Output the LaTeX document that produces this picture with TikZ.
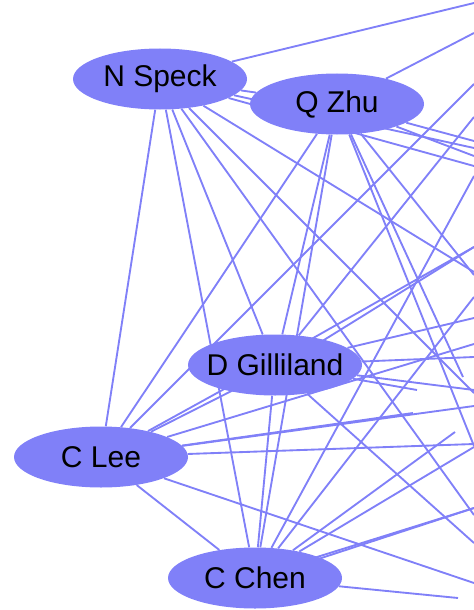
\documentclass[tikz,border=0pt]{standalone}
\usepackage{fontspec}
\setmainfont{Liberation Sans}
\usetikzlibrary{shapes.geometric,backgrounds}

\definecolor{authorblue}{RGB}{128,128,248}

\begin{document}
\begin{tikzpicture}[x=0.75pt,y=0.75pt,yscale=-1,xscale=1,
  author/.style={ellipse,fill=authorblue,minimum width=130.5pt,minimum height=45.75pt,inner xsep=-8pt,inner ysep=0pt,font=\fontsize{22.5}{27}\selectfont},
  coauthor/.style={draw=authorblue,line width=1.4pt}]
\useasboundingbox (0,0) rectangle (474,610);
\clip (0,0) rectangle (474,610);

%Author nodes
\node [author] (speck) at (160,79) {N Speck};
\node [author] (zhu) at (337,104) {Q Zhu};
\node [author] (gilliland) at (275,365) {D Gilliland};
\node [author] (lee) at (101,457) {C Lee};
\node [author] (chen) at (255,578) {C Chen};

%Ends of links to authors outside the picture
\coordinate (sp1) at (474,3);
\coordinate (sp2) at (474,148);
\coordinate (sp3) at (474,166);
\coordinate (sp4) at (474,515);
\coordinate (sp5) at (474,393);
\coordinate (sp6) at (474,272);
\coordinate (zh1) at (474,33);
\coordinate (zh2) at (474,141);
\coordinate (zh3) at (474,156);
\coordinate (zh4) at (463,377);
\coordinate (zh5) at (474,446);
\coordinate (zh6) at (474,275);
\coordinate (gi1) at (474,117);
\coordinate (gi2) at (474,247);
\coordinate (gi3) at (474,318);
\coordinate (gi4) at (474,357);
\coordinate (gi5) at (417,390);
\coordinate (gi6) at (474,390);
\coordinate (gi7) at (474,543);
\coordinate (le1) at (474,84);
\coordinate (le2) at (474,344);
\coordinate (le3) at (474,406);
\coordinate (le4) at (413,413);
\coordinate (le5) at (474,444);
\coordinate (le6) at (474,583);
\coordinate (ch1) at (474,176);
\coordinate (ch2) at (474,297);
\coordinate (ch3) at (474,447);
\coordinate (ch4) at (455,432);
\coordinate (ch5) at (474,508);
\coordinate (ch6) at (458,598);

\begin{scope}[on background layer]
%Links between the authors shown
\draw [coauthor] (speck) -- (zhu);
\draw [coauthor] (speck) -- (lee);
\draw [coauthor] (speck) -- (chen);
\draw [coauthor] (speck) -- (gilliland);
\draw [coauthor] (zhu) -- (lee);
\draw [coauthor] (zhu) -- (gilliland);
\draw [coauthor] (zhu) -- (chen);
\draw [coauthor] ([yshift=3pt]gilliland.center) -- (lee);
\draw [coauthor] ([yshift=-3pt]gilliland.center) -- (lee);
\draw [coauthor] (gilliland) -- (chen);
\draw [coauthor] (lee) -- (chen);
%Links leaving the picture
\foreach \e in {sp1,sp2,sp3,sp4,sp5,sp6}
  \draw [coauthor] (speck) -- (\e);
\foreach \e in {zh1,zh2,zh3,zh4,zh5,zh6}
  \draw [coauthor] (zhu) -- (\e);
\foreach \e in {gi1,gi3,gi4,gi5,gi6,gi7}
  \draw [coauthor] (gilliland) -- (\e);
\draw [coauthor] ([yshift=4pt]gilliland.center) -- (gi2);
\draw [coauthor] ([yshift=-4pt]gilliland.center) -- (gi2);
\foreach \e in {le1,le2,le3,le4,le5,le6}
  \draw [coauthor] (lee) -- (\e);
\foreach \e in {ch1,ch2,ch3,ch4,ch6}
  \draw [coauthor] (chen) -- (\e);
\draw [coauthor] ([xshift=4pt]chen.center) -- (ch5);
\draw [coauthor] ([xshift=-4pt]chen.center) -- (ch5);
\end{scope}

\end{tikzpicture}
\end{document}
